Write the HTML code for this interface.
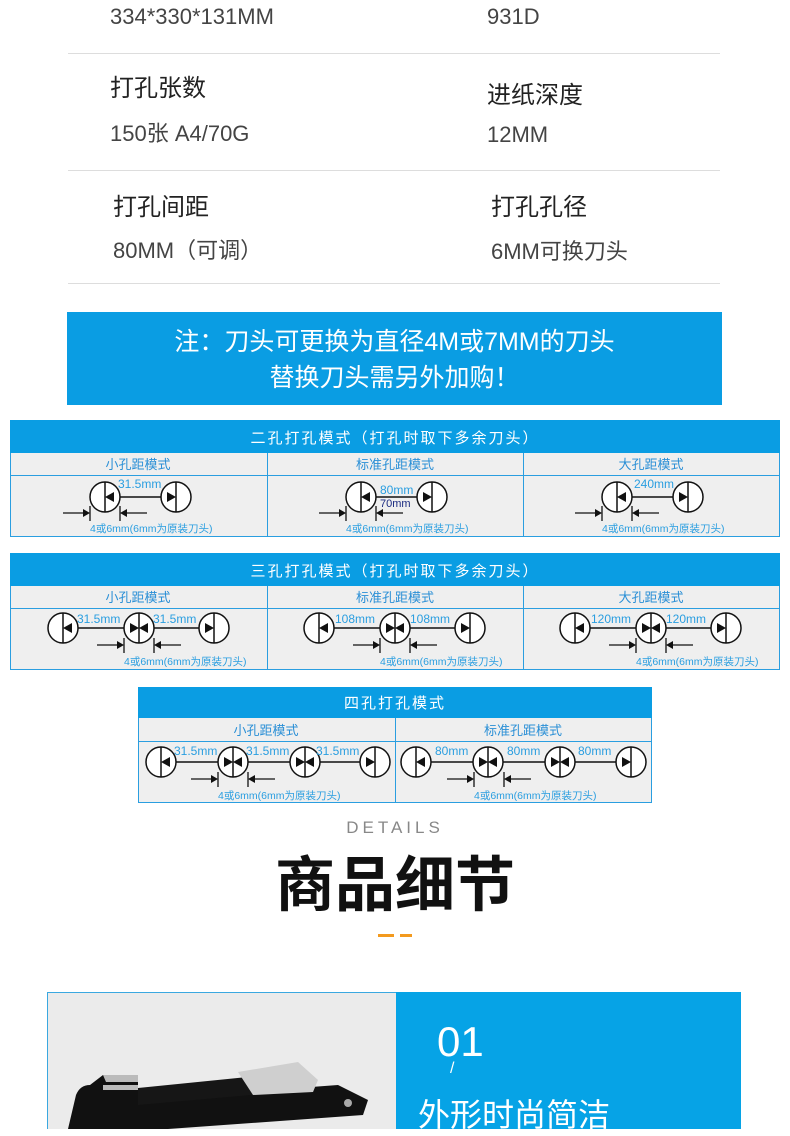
<!DOCTYPE html>
<html><head><meta charset="utf-8"><style>
body{margin:0;width:790px;height:1129px;overflow:hidden;background:#fff;font-family:"Liberation Sans","Noto Sans CJK SC",sans-serif;position:relative}
.t{position:absolute;white-space:nowrap;color:#333}
.hr{position:absolute;left:68px;width:652px;height:1px;background:#ddd}
</style></head><body>
<div class="t" style="left:110px;top:4px;font-size:22px;color:#444">334*330*131MM</div>
<div class="t" style="left:487px;top:4px;font-size:22px;color:#444">931D</div>
<div class="hr" style="top:53px"></div>
<div class="t" style="left:110px;top:68px;font-size:24px;color:#222">打孔张数</div>
<div class="t" style="left:110px;top:116px;font-size:22px;color:#444">150张 A4/70G</div>
<div class="t" style="left:487px;top:75px;font-size:24px;color:#222">进纸深度</div>
<div class="t" style="left:487px;top:122px;font-size:22px;color:#444">12MM</div>
<div class="hr" style="top:170px"></div>
<div class="t" style="left:113px;top:187px;font-size:24px;color:#222">打孔间距</div>
<div class="t" style="left:113px;top:233px;font-size:22px;color:#444">80MM（可调）</div>
<div class="t" style="left:491px;top:187px;font-size:24px;color:#222">打孔孔径</div>
<div class="t" style="left:491px;top:234px;font-size:22px;color:#444">6MM可换刀头</div>
<div class="hr" style="top:283px"></div>
<div style="position:absolute;left:67px;top:312px;width:655px;height:93px;background:#0a9de3;color:#fff;font-size:25px;text-align:center;line-height:36px;padding-top:12px;box-sizing:border-box">注：刀头可更换为直径4M或7MM的刀头<br>替换刀头需另外加购！</div>

<svg style="position:absolute;left:0;top:0" width="790" height="810" font-family="Liberation Sans,Noto Sans CJK SC,sans-serif">
<defs>
<g id="h"><circle r="15" fill="#fff" stroke="#111" stroke-width="1.5"/><line x1="0" y1="-15" x2="0" y2="15" stroke="#111" stroke-width="1.5"/></g>
<path id="L" d="M0 0 L9 -5 L9 5Z" fill="#111"/>
<path id="R" d="M0 0 L-9 -5 L-9 5Z" fill="#111"/>
</defs>
<g stroke="#2a9ee0" fill="#efefef">
<rect x="10.5" y="420.5" width="769" height="116"/>
<rect x="10.5" y="553.5" width="769" height="116"/>
<rect x="138.5" y="687.5" width="513" height="115"/>
</g>
<g fill="#0a9de3"><rect x="10" y="420" width="770" height="33"/><rect x="10" y="553" width="770" height="33"/><rect x="138" y="687" width="514" height="31"/></g>
<g stroke="#2a9ee0" stroke-width="1">
<line x1="10" y1="475.5" x2="780" y2="475.5"/><line x1="267.5" y1="453" x2="267.5" y2="537"/><line x1="523.5" y1="453" x2="523.5" y2="537"/>
<line x1="10" y1="608.5" x2="780" y2="608.5"/><line x1="267.5" y1="586" x2="267.5" y2="670"/><line x1="523.5" y1="586" x2="523.5" y2="670"/>
<line x1="138" y1="741.5" x2="652" y2="741.5"/><line x1="395.5" y1="718" x2="395.5" y2="803"/>
</g>
<g fill="#fff" font-size="15" text-anchor="middle" letter-spacing="2">
<text x="395" y="443">二孔打孔模式（打孔时取下多余刀头）</text>
<text x="395" y="576">三孔打孔模式（打孔时取下多余刀头）</text>
<text x="395" y="708">四孔打孔模式</text>
</g>
<g fill="#2a8fd6" font-size="13" text-anchor="middle">
<text x="138" y="469">小孔距模式</text><text x="395" y="469">标准孔距模式</text><text x="651" y="469">大孔距模式</text>
<text x="138" y="602">小孔距模式</text><text x="395" y="602">标准孔距模式</text><text x="651" y="602">大孔距模式</text>
<text x="266" y="735">小孔距模式</text><text x="523" y="735">标准孔距模式</text>
</g>
<g stroke="#111" stroke-width="1.5">
<line x1="105" y1="497" x2="176" y2="497"/><line x1="361" y1="497" x2="432" y2="497"/><line x1="617" y1="497" x2="688" y2="497"/>
<line x1="63" y1="628" x2="214" y2="628"/><line x1="319" y1="628" x2="470" y2="628"/><line x1="575" y1="628" x2="726" y2="628"/>
<line x1="161" y1="762" x2="375" y2="762"/><line x1="416" y1="762" x2="631" y2="762"/>
</g>
<use href="#h" x="105" y="497"/><use href="#h" x="176" y="497"/><use href="#L" x="105" y="497"/><use href="#R" x="176" y="497"/>
<use href="#h" x="361" y="497"/><use href="#h" x="432" y="497"/><use href="#L" x="361" y="497"/><use href="#R" x="432" y="497"/>
<use href="#h" x="617" y="497"/><use href="#h" x="688" y="497"/><use href="#L" x="617" y="497"/><use href="#R" x="688" y="497"/>
<g>
<use href="#h" x="63" y="628"/><use href="#h" x="139" y="628"/><use href="#h" x="214" y="628"/>
<use href="#L" x="63" y="628"/><use href="#R" x="139" y="628"/><use href="#L" x="139" y="628"/><use href="#R" x="214" y="628"/>
<use href="#h" x="319" y="628"/><use href="#h" x="395" y="628"/><use href="#h" x="470" y="628"/>
<use href="#L" x="319" y="628"/><use href="#R" x="395" y="628"/><use href="#L" x="395" y="628"/><use href="#R" x="470" y="628"/>
<use href="#h" x="575" y="628"/><use href="#h" x="651" y="628"/><use href="#h" x="726" y="628"/>
<use href="#L" x="575" y="628"/><use href="#R" x="651" y="628"/><use href="#L" x="651" y="628"/><use href="#R" x="726" y="628"/>
</g>
<g>
<use href="#h" x="161" y="762"/><use href="#h" x="233" y="762"/><use href="#h" x="305" y="762"/><use href="#h" x="375" y="762"/>
<use href="#L" x="161" y="762"/><use href="#R" x="233" y="762"/><use href="#L" x="233" y="762"/><use href="#R" x="305" y="762"/><use href="#L" x="305" y="762"/><use href="#R" x="375" y="762"/>
<use href="#h" x="416" y="762"/><use href="#h" x="488" y="762"/><use href="#h" x="560" y="762"/><use href="#h" x="631" y="762"/>
<use href="#L" x="416" y="762"/><use href="#R" x="488" y="762"/><use href="#L" x="488" y="762"/><use href="#R" x="560" y="762"/><use href="#L" x="560" y="762"/><use href="#R" x="631" y="762"/>
</g>
<g stroke="#111" stroke-width="1.3">
<path d="M63 513H86M90 506V521M120 506V521M147 513H124"/>
<path d="M319 513H342M346 506V521M376 506V521M403 513H380"/>
<path d="M575 513H598M602 506V521M632 506V521M659 513H636"/>
<path d="M97 645H120M124 638V653M154 638V653M181 645H158"/>
<path d="M353 645H376M380 638V653M410 638V653M437 645H414"/>
<path d="M609 645H632M636 638V653M666 638V653M693 645H670"/>
<path d="M191 779H214M218 772V787M248 772V787M275 779H252"/>
<path d="M447 779H470M474 772V787M504 772V787M531 779H508"/>
</g>
<g fill="#111">
<path d="M90 513l-7-4v8z M120 513l7-4v8z"/><path d="M346 513l-7-4v8z M376 513l7-4v8z"/><path d="M602 513l-7-4v8z M632 513l7-4v8z"/>
<path d="M124 645l-7-4v8z M154 645l7-4v8z"/><path d="M380 645l-7-4v8z M410 645l7-4v8z"/><path d="M636 645l-7-4v8z M666 645l7-4v8z"/>
<path d="M218 779l-7-4v8z M248 779l7-4v8z"/><path d="M474 779l-7-4v8z M504 779l7-4v8z"/>
</g>
<g fill="#2a9ee0" font-size="12">
<text x="118" y="488">31.5mm</text><text x="380" y="494">80mm</text><text x="634" y="488">240mm</text>
<text x="77" y="623">31.5mm</text><text x="153" y="623">31.5mm</text>
<text x="335" y="623">108mm</text><text x="410" y="623">108mm</text>
<text x="591" y="623">120mm</text><text x="666" y="623">120mm</text>
<text x="174" y="755">31.5mm</text><text x="246" y="755">31.5mm</text><text x="316" y="755">31.5mm</text>
<text x="435" y="755">80mm</text><text x="507" y="755">80mm</text><text x="578" y="755">80mm</text>
</g>
<text x="380" y="507" fill="#1a2a80" font-size="11">70mm</text>
<g fill="#2a9ee0" font-size="10.5">
<text x="90" y="532">4或6mm(6mm为原装刀头)</text><text x="346" y="532">4或6mm(6mm为原装刀头)</text><text x="602" y="532">4或6mm(6mm为原装刀头)</text>
<text x="124" y="665">4或6mm(6mm为原装刀头)</text><text x="380" y="665">4或6mm(6mm为原装刀头)</text><text x="636" y="665">4或6mm(6mm为原装刀头)</text>
<text x="218" y="799">4或6mm(6mm为原装刀头)</text><text x="474" y="799">4或6mm(6mm为原装刀头)</text>
</g>
</svg>

<div class="t" style="left:0;width:790px;text-align:center;top:818px;font-size:17px;letter-spacing:4px;color:#888">DETAILS</div>
<div class="t" style="left:0;width:790px;text-align:center;top:837px;font-size:60px;font-weight:bold;color:#111">商品细节</div>
<div style="position:absolute;left:378px;top:934px;width:16px;height:3px;background:#f39a1e"></div>
<div style="position:absolute;left:400px;top:934px;width:12px;height:3px;background:#f39a1e"></div>

<div style="position:absolute;left:47px;top:992px;width:694px;height:137px;border:1px solid #3aa8e0;border-bottom:none;box-sizing:border-box;background:#ebebeb"></div>
<div style="position:absolute;left:396px;top:992px;width:345px;height:137px;background:#06a3e6"></div>
<svg style="position:absolute;left:48px;top:1060px" width="348" height="69">
<path d="M20 69 L28 35 Q32 25 42 25 L55 15 L90 15 L90 40 L290 25 L320 40 L315 55 L120 69Z" fill="#111"/>
<path d="M90 28 L250 12 L260 30 L90 45Z" fill="#161616"/>
<path d="M190 12 L250 2 L270 20 L265 32 L205 35Z" fill="#cfcfcf"/>
<path d="M55 15 L90 15 L90 22 L58 22Z M55 25 L90 25 L90 30 L55 30Z" fill="#bbb"/>
<circle cx="300" cy="43" r="4" fill="#aaa"/>
</svg>
<div class="t" style="left:437px;top:1018px;font-size:42px;color:#fff;font-weight:100">01</div>
<div class="t" style="left:450px;top:1060px;font-size:16px;color:#fff">/</div>
<div class="t" style="left:418px;top:1090px;font-size:32px;color:#fff">外形时尚简洁</div>
</body></html>
